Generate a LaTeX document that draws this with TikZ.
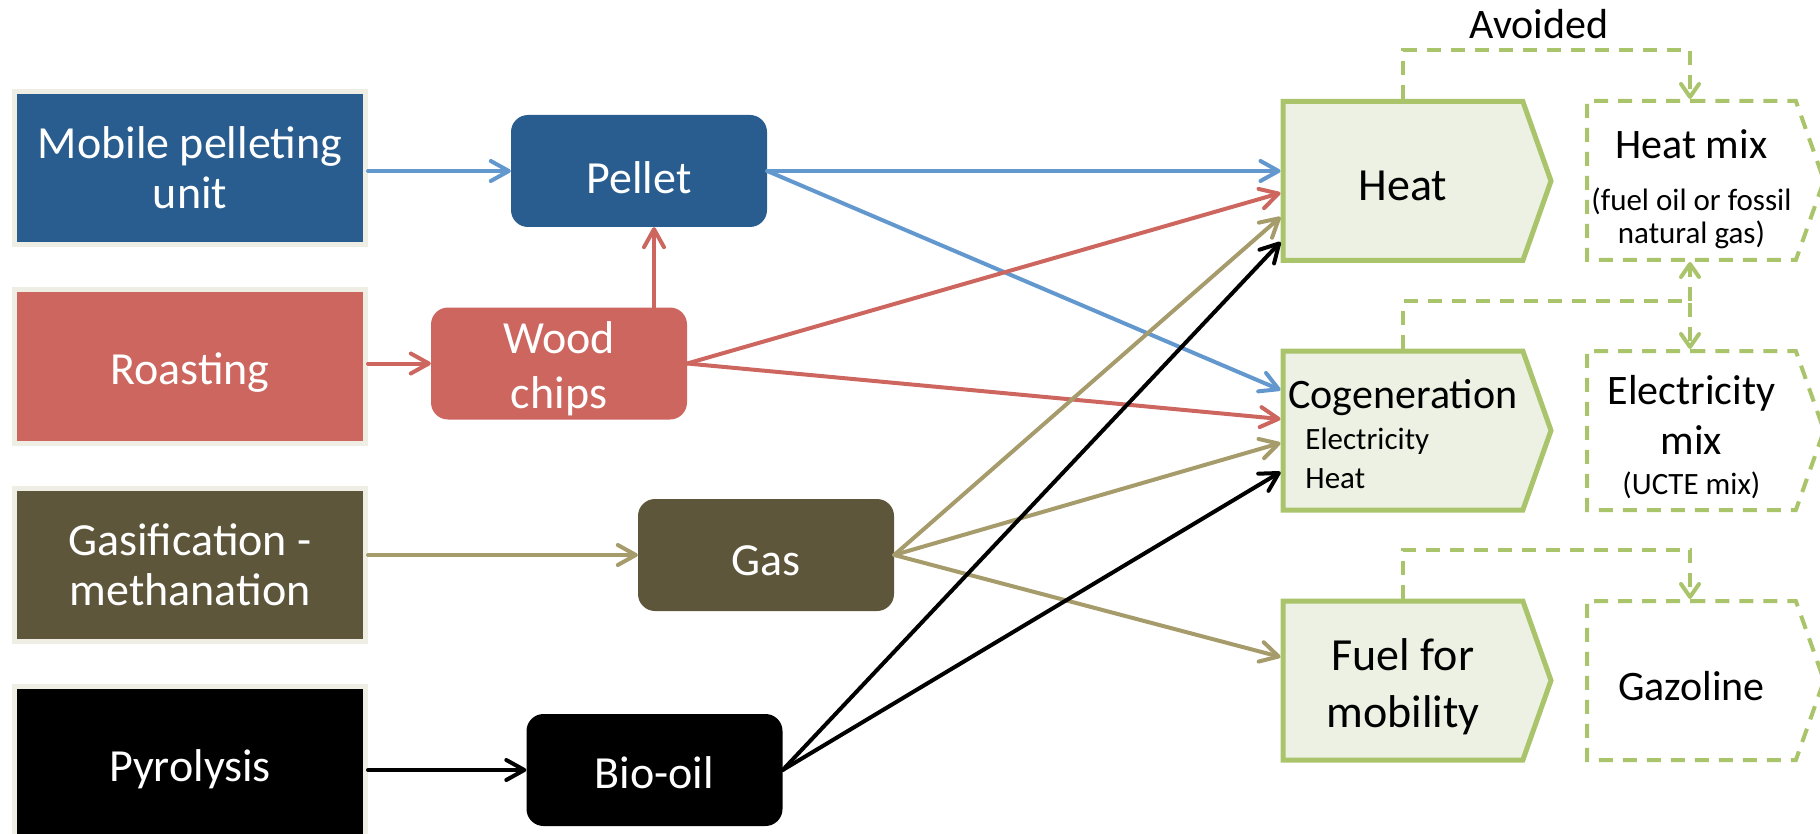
\documentclass[tikz,border=0pt]{standalone}
\usepackage{fontspec}
\setmainfont{Carlito}
\usepackage{tikz}
\usetikzlibrary{arrows.meta,shapes.symbols,positioning}

\definecolor{pelletblue}{RGB}{42,93,143}
\definecolor{lineblue}{RGB}{98,152,206}
\definecolor{roastred}{RGB}{205,102,95}
\definecolor{gasolive}{RGB}{94,86,58}
\definecolor{gastan}{RGB}{166,155,106}
\definecolor{framegray}{RGB}{238,238,228}
\definecolor{usegreen}{RGB}{169,196,106}
\definecolor{usefill}{RGB}{236,241,227}

\newcommand\bigfnt{\fontsize{46}{52}\selectfont}
\newcommand\medfnt{\fontsize{42}{50}\selectfont}
\newcommand\smlfnt{\fontsize{31}{37}\selectfont}
\newcommand\lift[1]{\rule{0pt}{#1pt}}% pushes the first line down

\tikzset{
  srcbox/.style={rectangle, draw=framegray, line width=5pt, minimum width=351pt, minimum height=153pt, text=white, font=\bigfnt, align=center, inner sep=0pt},
  prodbox/.style={rectangle, rounded corners=17pt, minimum width=256pt, minimum height=112pt, text=white, font=\bigfnt, align=center, inner sep=0pt},
  enduse/.style={signal, signal to=east, signal pointer angle=141, draw=usegreen, fill=usefill, line width=5pt, minimum width=268pt, minimum height=159pt, font=\bigfnt, align=center, inner sep=0pt},
  mixbox/.style={signal, signal to=east, signal pointer angle=141, draw=usegreen, line width=4pt, dash pattern=on 14pt off 10pt, minimum width=237pt, minimum height=159pt, font=\medfnt, align=center, inner sep=0pt},
  flow/.style={line width=4pt, line cap=round, -{Straight Barb[length=18pt,width=20pt,line cap=round,line join=round]}},
  avoidarr/.style={draw=usegreen, line width=4pt, dash pattern=on 14pt off 10pt, -{Straight Barb[length=13pt,width=18pt,line cap=round,line join=round]}},
}

\begin{document}
\begin{tikzpicture}[x=1pt,y=-1pt]
\useasboundingbox (0,0) rectangle (1820,834);

% process boxes
\node[srcbox, fill=pelletblue] (mobile) at (190,168) {Mobile pelleting\\[-2pt]unit};
\node[srcbox, fill=roastred] (roast) at (190,366.5) {\lift{43}Roasting};
\node[srcbox, fill=gasolive] (gasif) at (190,564.5) {Gasification -\\[-2pt]methanation};
\node[srcbox, fill=black] (pyro) at (190,763) {\lift{44}Pyrolysis};% cut at the bottom

% products
\node[prodbox, fill=pelletblue] (pellet) at (639,171) {\lift{45}Pellet};
\node[prodbox, fill=roastred] (wood) at (559,363.5) {\lift{43}Wood\\[3pt]chips};
\node[prodbox, fill=gasolive] (gas) at (766,555) {\lift{41}Gas};
\node[prodbox, fill=black] (biooil) at (654.5,770) {\lift{37}Bio-oil};

% end uses
\node[enduse, anchor=west] (heat) at (1280.5,181) {\lift{40}Heat};
\node[enduse, anchor=west, font=\medfnt, align=left] (cogen) at (1280.5,430.5) {\lift{36}Cogeneration\\[-9pt] \smlfnt\hspace*{17pt}Electricity\\[-11pt] \smlfnt\hspace*{17pt}Heat};
\node[enduse, anchor=west] (fuel) at (1280.5,680.5) {\lift{44}Fuel for\\[5pt]mobility};

% avoided products
\node[mixbox, anchor=west] (heatmix) at (1585,180.5) {\lift{46}Heat mix\\[2pt] \smlfnt (fuel oil or fossil\\[-17pt] \smlfnt natural gas)};
\node[mixbox, anchor=west] (elecmix) at (1585,430.5) {\lift{42}Electricity\\mix\\[-10pt] \smlfnt (UCTE mix)};
\node[mixbox, anchor=west] (gazoline) at (1585,680.5) {\lift{40}Gazoline};

\node[font=\medfnt, anchor=base] (avoided) at (1539,39) {Avoided};

% straight flows
\draw[flow, lineblue] (mobile.east |- pellet.west) -- (pellet.west);
\draw[flow, roastred] (roast.east |- wood.west) -- (wood.west);
\draw[flow, roastred] ([xshift=95pt]wood.north) -- ([xshift=95pt]wood.north |- pellet.south);
\draw[flow, gastan] (gasif.east |- gas.west) -- (gas.west);
\draw[flow, black] (pyro.east |- biooil.west) -- (biooil.west);

% flows to the end uses
\draw[flow, lineblue] (pellet.east) -- ([yshift=10pt]heat.west);
\draw[flow, lineblue] (pellet.east) -- ([yshift=40.5pt]cogen.west);
\draw[flow, roastred] (wood.east) -- ([yshift=-12pt]heat.west);
\draw[flow, roastred] (wood.east) -- ([yshift=11.5pt]cogen.west);
\draw[flow, gastan] (gas.east) -- ([yshift=-36pt]heat.west);
\draw[flow, gastan] (gas.east) -- ([yshift=-12.5pt]cogen.west);
\draw[flow, gastan] (gas.east) -- ([yshift=23.5pt]fuel.west);
\draw[flow, black] (biooil.east) -- ([yshift=-61pt]heat.west);
\draw[flow, black] (biooil.east) -- ([yshift=-41.5pt]cogen.west);

% avoided links
\coordinate (hmtop) at ([xshift=105pt]heatmix.north west);
\coordinate (hmbot) at ([xshift=105pt]heatmix.south west);
\coordinate (emtop) at ([xshift=105pt]elecmix.north west);
\coordinate (gztop) at ([xshift=105pt]gazoline.north west);
\draw[avoidarr] ([xshift=122.5pt]heat.north west) -- ++(0,-48.5) -| (hmtop);
\draw[avoidarr] ([xshift=122pt]cogen.north west) -- ++(0,-47) coordinate (cosplit) -| (emtop);
\coordinate (mixjoin) at (cosplit -| emtop);
\draw[avoidarr] (mixjoin) -- (hmbot);
\draw[avoidarr] ([xshift=122pt]fuel.north west) -- ++(0,-49) -| (gztop);

\end{tikzpicture}
\end{document}
